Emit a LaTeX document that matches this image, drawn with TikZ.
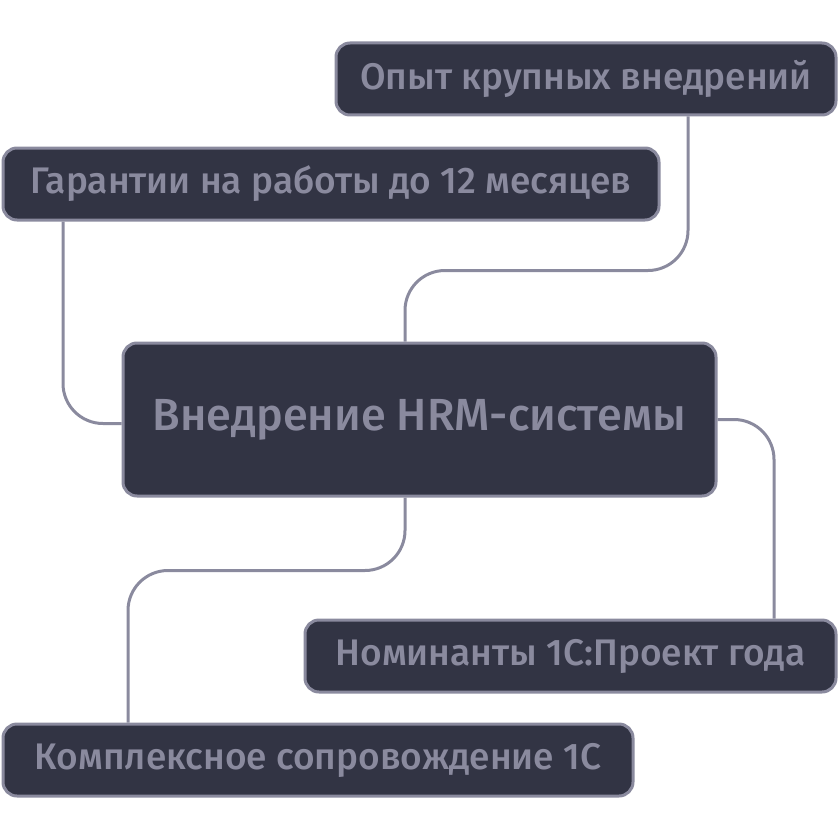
\documentclass[tikz,border=0pt]{standalone}
\usepackage{fontspec}
\setmainfont{Fira Sans Medium}
\usetikzlibrary{calc}
\definecolor{boxfill}{HTML}{323444}
\definecolor{boxline}{HTML}{8A8A9E}
\tikzset{
  item/.style={draw=boxline, line width=3pt, fill=boxfill, rounded corners=14pt,
    text=boxline, minimum height=72pt, inner sep=0pt,
    font=\fontsize{37}{44}\selectfont},
  hub/.style={item, minimum height=153pt, font=\fontsize{45}{52}\selectfont},
  link/.style={draw=boxline, line width=3pt, rounded corners=40pt}
}
\begin{document}
\begin{tikzpicture}[x=1pt,y=-1pt]
    \useasboundingbox (0,0) rectangle (840,840);
    \node (opyt) at (586,79) [item,minimum width=500pt] {Опыт крупных внедрений};
    \node (garant) at (331,184) [item,minimum width=656pt] {Гарантии на работы до 12 месяцев};
    \node (hrm) at (419.5,419.5) [hub,minimum width=593pt] {Внедрение HRM-системы};
    \node (nomin) at (570.5,656) [item,minimum width=531pt] {Номинанты 1С:Проект года};
    \node (kompl) at (318,760) [item,minimum width=630pt] {Комплексное сопровождение 1С};
   \draw[link]
    ([xshift=102pt]opyt.south) |- ([xshift=-14.5pt,yshift=71pt]hrm.north) -- ([xshift=-14.5pt]hrm.north)
    ([xshift=-268pt]garant.south) |- ([yshift=-4pt]hrm.west)
    (hrm.east) -| ([xshift=203.5pt]nomin.north)
    ([xshift=-14.5pt]hrm.south) -- ([xshift=-14.5pt,yshift=-73pt]hrm.south) -| ([xshift=-190pt]kompl.north);
  \end{tikzpicture}
\end{document}
